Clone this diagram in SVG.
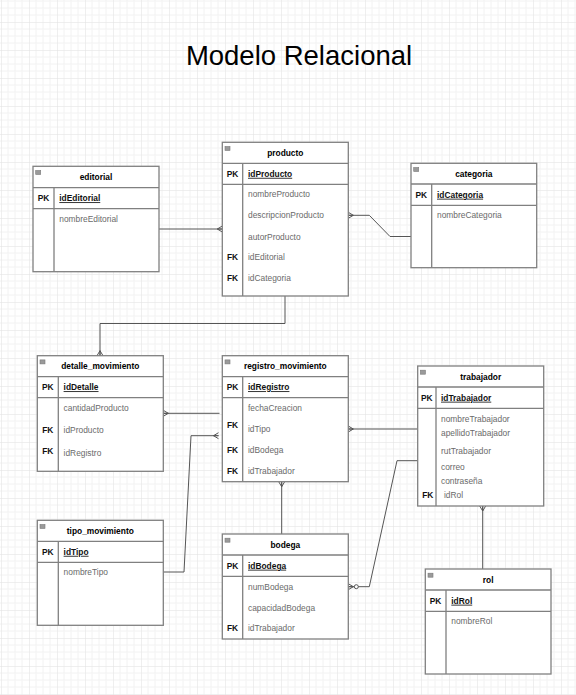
<svg xmlns="http://www.w3.org/2000/svg" width="576" height="695" viewBox="0 0 576 695">
<defs>
<pattern id="grid" x="1" y="22" width="28" height="28" patternUnits="userSpaceOnUse">
<path d="M7,0V28M14,0V28M21,0V28M0,7H28M0,14H28M0,21H28" stroke="#f2f2f2" stroke-width="1" fill="none"/>
<path d="M0,0V28M0,0H28" stroke="#e0e0e0" stroke-width="1" fill="none"/>
</pattern>
<marker id="many" viewBox="0 0 5 6" markerWidth="5" markerHeight="6" refX="5" refY="3" orient="auto" markerUnits="userSpaceOnUse" overflow="visible">
<path d="M0,3L5,0M0,3L5,6M0,3L5,3" fill="none" stroke="#555" stroke-width="1"/>
</marker>
<marker id="zmany" viewBox="0 0 10 6" markerWidth="10" markerHeight="6" refX="10" refY="3" orient="auto" markerUnits="userSpaceOnUse" overflow="visible">
<path d="M5,3L10,0M5,3L10,6M5,3L10,3" fill="none" stroke="#555" stroke-width="1"/>
<circle cx="2" cy="3" r="2" fill="#fff" stroke="#555" stroke-width="1"/>
</marker>
</defs>
<style>
.box{fill:#fff;stroke:#808080;stroke-width:1.3}
.ln{stroke:#808080;stroke-width:1.3;fill:none}
.ico{fill:#9a9a9a;stroke:#7a7a7a;stroke-width:0.6}
.hd{font-family:"Liberation Sans",Arial,sans-serif;font-size:8.4px;font-weight:bold;fill:#000;text-anchor:middle}
.k{font-family:"Liberation Sans",Arial,sans-serif;font-size:8.4px;font-weight:bold;fill:#111;text-anchor:middle}
.pk{font-family:"Liberation Sans",Arial,sans-serif;font-size:8.4px;font-weight:bold;fill:#111;text-decoration:underline}
.f{font-family:"Liberation Sans",Arial,sans-serif;font-size:8.4px;fill:#6a6a6a}
.c{fill:none;stroke:#555;stroke-width:1}
.title{font-family:"Liberation Sans",Arial,sans-serif;font-size:27.5px;fill:#000;text-anchor:middle}
</style>
<rect width="576" height="695" fill="#fff"/>
<rect width="576" height="695" fill="url(#grid)"/>
<text class="title" x="299" y="65">Modelo Relacional</text>

<g id="connectors">
<path class="c" d="M159,229H222.3" marker-end="url(#many)"/>
<path class="c" d="M411,236.5H390L369.3,215.3H348.3" marker-end="url(#many)"/>
<path class="c" d="M285,296V323.5H100V355.7" marker-end="url(#many)"/>
<path class="c" d="M219.5,413.3H163.3" marker-end="url(#many)"/>
<path class="c" d="M163.3,572H184L191,435.7H218.5" marker-end="url(#many)"/>
<path class="c" d="M417.7,429H348.3" marker-end="url(#many)"/>
<path class="c" d="M417.7,460.7H397L369.3,586.7H348.3" marker-end="url(#zmany)"/>
<path class="c" d="M281.7,534V481.7" marker-end="url(#many)"/>
<path class="c" d="M482.7,569V506" marker-end="url(#many)"/>
</g>

<g id="editorial">
<rect class="box" x="33" y="166.3" width="126" height="105.4"/>
<path class="ln" d="M33,187.7H159M33,208.7H159M54,187.7V271.7"/>
<rect class="ico" x="35.7" y="170.5" width="5" height="4"/>
<text class="hd" x="96" y="180">editorial</text>
<text class="k" x="43.5" y="201.2">PK</text>
<text class="pk" x="59.3" y="201.2">idEditorial</text>
<text class="f" x="59.3" y="222">nombreEditorial</text>
</g>

<g id="producto">
<rect class="box" x="222.3" y="142.3" width="126" height="153.7"/>
<path class="ln" d="M222.3,163.3H348.3M222.3,184.3H348.3M242.7,163.3V296"/>
<rect class="ico" x="225" y="146.5" width="5" height="4"/>
<text class="hd" x="285.3" y="155.8">producto</text>
<text class="k" x="232.5" y="176.8">PK</text>
<text class="pk" x="248" y="176.8">idProducto</text>
<text class="f" x="248" y="197">nombreProducto</text>
<text class="f" x="248" y="218.3">descripcionProducto</text>
<text class="f" x="248" y="239.7">autorProducto</text>
<text class="k" x="232.5" y="260.3">FK</text>
<text class="f" x="248" y="260.3">idEditorial</text>
<text class="k" x="232.5" y="281.3">FK</text>
<text class="f" x="248" y="281.3">idCategoria</text>
</g>

<g id="categoria">
<rect class="box" x="411" y="163.3" width="125.7" height="104.4"/>
<path class="ln" d="M411,184H536.7M411,205.3H536.7M431.7,184V267.7"/>
<rect class="ico" x="413.7" y="167.5" width="5" height="4"/>
<text class="hd" x="473.8" y="176.7">categoria</text>
<text class="k" x="421.3" y="197.7">PK</text>
<text class="pk" x="437" y="197.7">idCategoria</text>
<text class="f" x="437" y="218.3">nombreCategoria</text>
</g>

<g id="detalle_movimiento">
<rect class="box" x="37.3" y="355.7" width="126" height="115.6"/>
<path class="ln" d="M37.3,376.7H163.3M37.3,397.7H163.3M58.3,376.7V471.3"/>
<rect class="ico" x="40" y="359.9" width="5" height="4"/>
<text class="hd" x="100.3" y="369.2">detalle_movimiento</text>
<text class="k" x="47.8" y="390.2">PK</text>
<text class="pk" x="63.6" y="390.2">idDetalle</text>
<text class="f" x="63.6" y="411.3">cantidadProducto</text>
<text class="k" x="47.8" y="433">FK</text>
<text class="f" x="63.6" y="433">idProducto</text>
<text class="k" x="47.8" y="454">FK</text>
<text class="f" x="63.6" y="456">idRegistro</text>
</g>

<g id="registro_movimiento">
<rect class="box" x="222.3" y="355.7" width="126" height="126"/>
<path class="ln" d="M222.3,376.7H348.3M222.3,397.7H348.3M242.7,376.7V481.7"/>
<rect class="ico" x="225" y="359.9" width="5" height="4"/>
<text class="hd" x="285.3" y="369.2">registro_movimiento</text>
<text class="k" x="232.5" y="390.2">PK</text>
<text class="pk" x="248" y="390.2">idRegistro</text>
<text class="f" x="248" y="411.3">fechaCreacion</text>
<text class="k" x="232.5" y="428.3">FK</text>
<text class="f" x="248" y="432.3">idTipo</text>
<text class="k" x="232.5" y="453.3">FK</text>
<text class="f" x="248" y="453.3">idBodega</text>
<text class="k" x="232.5" y="474.3">FK</text>
<text class="f" x="248" y="474.3">idTrabajador</text>
</g>

<g id="trabajador">
<rect class="box" x="417.7" y="366" width="126" height="140"/>
<path class="ln" d="M417.7,387H543.7M417.7,408.3H543.7M436,387V506"/>
<rect class="ico" x="420.4" y="370.2" width="5" height="4"/>
<text class="hd" x="480.7" y="379.5">trabajador</text>
<text class="k" x="426.8" y="400.7">PK</text>
<text class="pk" x="441" y="400.7">idTrabajador</text>
<text class="f" x="441" y="421.7">nombreTrabajador</text>
<text class="f" x="441" y="436.3">apellidoTrabajador</text>
<text class="f" x="441" y="454">rutTrabajador</text>
<text class="f" x="441" y="470.3">correo</text>
<text class="f" x="441" y="484">contraseña</text>
<text class="k" x="427.8" y="498">FK</text>
<text class="f" x="444" y="498">idRol</text>
</g>

<g id="tipo_movimiento">
<rect class="box" x="37.3" y="520.3" width="126" height="105"/>
<path class="ln" d="M37.3,541.3H163.3M37.3,562.3H163.3M58.3,541.3V625.3"/>
<rect class="ico" x="40" y="524.5" width="5" height="4"/>
<text class="hd" x="100.3" y="533.8">tipo_movimiento</text>
<text class="k" x="47.8" y="554.8">PK</text>
<text class="pk" x="63.6" y="554.8">idTipo</text>
<text class="f" x="63.6" y="575">nombreTipo</text>
</g>

<g id="bodega">
<rect class="box" x="222.3" y="534" width="126" height="105"/>
<path class="ln" d="M222.3,555H348.3M222.3,576.3H348.3M242.7,555V639"/>
<rect class="ico" x="225" y="538.2" width="5" height="4"/>
<text class="hd" x="285.3" y="547.5">bodega</text>
<text class="k" x="232.5" y="568.7">PK</text>
<text class="pk" x="248" y="568.7">idBodega</text>
<text class="f" x="248" y="589.7">numBodega</text>
<text class="f" x="248" y="610.7">capacidadBodega</text>
<text class="k" x="232.5" y="631.3">FK</text>
<text class="f" x="248" y="631.3">idTrabajador</text>
</g>

<g id="rol">
<rect class="box" x="425.3" y="569" width="125.7" height="105"/>
<path class="ln" d="M425.3,590H551M425.3,611.3H551M446,590V674"/>
<rect class="ico" x="428" y="573.2" width="5" height="4"/>
<text class="hd" x="488.2" y="582.5">rol</text>
<text class="k" x="435.6" y="603.7">PK</text>
<text class="pk" x="451.3" y="603.7">idRol</text>
<text class="f" x="451.3" y="624.3">nombreRol</text>
</g>
</svg>
